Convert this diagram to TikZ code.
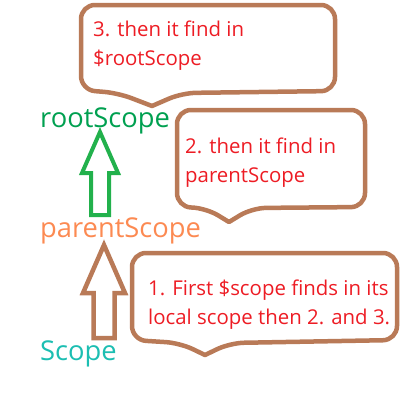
\documentclass[tikz,border=0pt]{standalone}
\usepackage{fontspec}
\setmainfont{Open Sans}
\usepackage{tikz}
\usetikzlibrary{positioning,calc}
\definecolor{bubblebrown}{RGB}{185,122,87}
\definecolor{notered}{RGB}{237,28,36}
\definecolor{arrowgreen}{RGB}{34,177,76}
\definecolor{rootgreen}{RGB}{0,160,80}
\definecolor{parentorange}{RGB}{252,138,82}
\definecolor{scopeteal}{RGB}{28,190,178}

\begin{document}
\begin{tikzpicture}[x=1pt, y=-1pt]
% Definition of styles:
\tikzset{%
  scopename/.style  = {anchor=base west, inner sep=0pt, font=\fontsize{27.3}{30}\selectfont},
  bubbletext/.style = {anchor=base west, inner sep=0pt, align=left, text=notered, font=\fontsize{20.4}{28.5}\selectfont},
  bubble/.style     = {draw=bubblebrown, line width=4.5pt, line join=round},
  uparrow/.style    = {line width=4pt, line join=miter}
}
\useasboundingbox (0,0) rectangle (400,400);

% Scope names
\draw
	node [scopename, text=rootgreen] (Root) at (40,127) {rootScope}
	node [scopename, text=parentorange] (Parent) at (40,237) {parentScope}
	node [scopename, text=scopeteal] (Scope) at (40,360) {Scope};

% Block arrows
\coordinate (GreenTip) at (100,132);
\coordinate (BrownTip) at (104,245);
\draw[uparrow, draw=arrowgreen] (GreenTip) -- ++(18,41) -- ++(-9,0) -- ++(0,42) -- ++(-18,0) -- ++(0,-42) -- ++(-9,0) -- cycle;
\draw[uparrow, draw=bubblebrown, line width=4.5pt] (BrownTip) -- ++(21,48) -- ++(-10.5,0) -- ++(0,45) -- ++(-21,0) -- ++(0,-45) -- ++(-10.5,0) -- cycle;

% Callouts
\draw[bubble] (200,5) [rounded corners=14pt] -- (335,5) -- (335,91) -- (182,93) [sharp corners] -- (152,106) [rounded corners=14pt] -- (118,93) -- (81,90) -- (81,5) -- (200,5);
\draw[bubble] (270,110) [rounded corners=14pt] -- (365,110) -- (365,207) -- (252,208) [sharp corners] -- (229,222) [rounded corners=14pt] -- (206,208) -- (177,207) -- (177,110) -- (270,110);
\draw[bubble] (260,253) [rounded corners=14pt] -- (397,253) -- (397,340) -- (230,343) [sharp corners] -- (205,355) [rounded corners=14pt] -- (180,343) -- (132,340) -- (132,253) -- (260,253);

\draw
	node [bubbletext] (NoteRoot) at (93,65) {3. then it find in\\\$rootScope}
	node [bubbletext] (NoteParent) at (185,182) {2. then it find in\\parentScope}
	node [bubbletext] (NoteScope) at (148,324) {1. First \$scope finds in its\\local scope then 2. and 3.};

\end{tikzpicture}
\end{document}
